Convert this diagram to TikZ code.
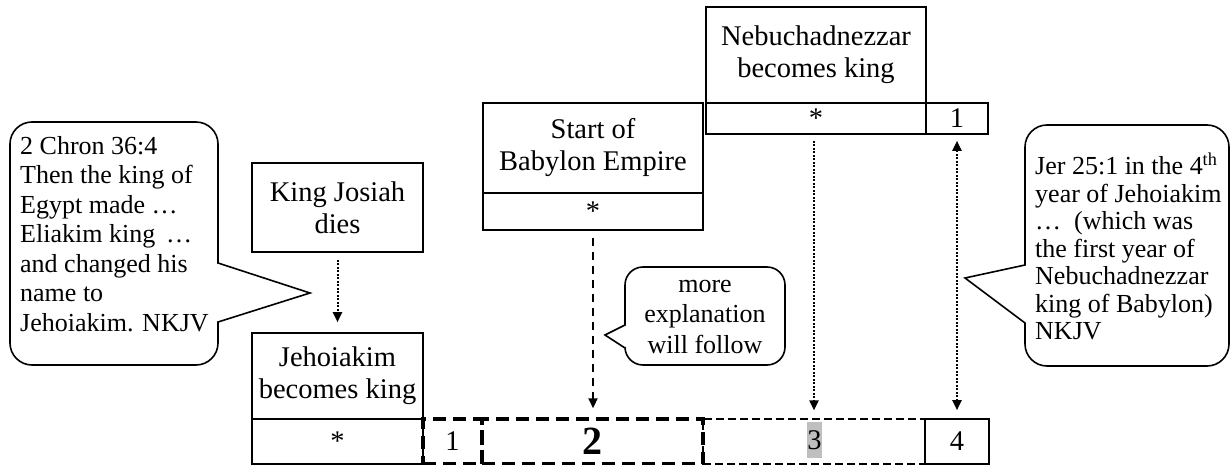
\documentclass[tikz,border=0pt]{standalone}
\usepackage{fontspec}
\setmainfont{Liberation Serif}
\usetikzlibrary{arrows.meta}

\begin{document}
\begin{tikzpicture}[x=1pt,y=-1pt,
    font=\fontsize{28.5}{32}\selectfont,
    box/.style={draw,line width=1.6pt,inner sep=0pt,align=center},
    cell/.style={box,minimum height=45pt},
    note/.style={inner sep=0pt,align=left,anchor=north west},
    bubble/.style={line width=1.6pt},
    headtip/.style={-{Triangle[length=10pt,width=9pt]}},
    dotline/.style={line width=2pt,dash pattern=on 2pt off 1.5pt},
    bigdash/.style={line width=3.5pt,dash pattern=on 13pt off 7pt},
    smalldash/.style={line width=1.2pt,dash pattern=on 8pt off 4pt}]
    \useasboundingbox (0,0) rectangle (1231,465);

    % Left note: 2 Chron 36:4
    \node[note,font=\fontsize{26}{29.5}\selectfont] (chronnote) at (20,136)
        {2 Chron 36:4\\Then the king of\\Egypt made …\\Eliakim king \,…\\and changed his\\name to\\Jehoiakim. NKJV};
    \draw[bubble] (310,293) -- (218,322) [rounded corners=22pt] -- (218,365) -- (10,365)
        -- (10,122) -- (218,122) [sharp corners] -- (218,263) -- cycle;

    % Josiah and Jehoiakim
    \node[box,minimum width=171pt,minimum height=89pt] (josiah) at (337.5,207.5) {King Josiah\\dies};
    \node[box,minimum width=171pt,minimum height=86pt] (jehoiakim) at (337.5,376) {Jehoiakim\\becomes king};
    \node[cell,minimum width=171pt] (jehoiakimstar) at (337.5,441.5) {*};

    % Babylon
    \node[box,minimum width=220pt,minimum height=90pt] (babylon) at (593,148) {Start of\\Babylon Empire};
    \node[box,minimum width=220pt,minimum height=37pt] (babylonstar) at (593,211.5) {*};

    % Nebuchadnezzar
    \node[box,minimum width=220pt,minimum height=96pt] (nebu) at (816,55) {Nebuchadnezzar\\becomes king};
    \node[box,minimum width=220pt,minimum height=31pt] (nebustar) at (816,118.5) {*};
    \node[box,minimum width=62pt,minimum height=31pt] (nebuone) at (957,118.5) {1};

    % Years of Jehoiakim
    \node[cell,smalldash,minimum width=222pt] (yearthree) at (814,441.5) {};
    \node[fill=gray!50,inner sep=0pt,minimum width=15pt,minimum height=36pt] (three) at (814.5,440) {3};
    \node[cell,bigdash,minimum width=221pt] (yeartwo) at (592.5,441.5) {\fontsize{40}{40}\selectfont\bfseries 2};
    \node[cell,bigdash,minimum width=59pt] (yearone) at (452.5,441.5) {1};
    \node[cell,minimum width=64pt] (yearfour) at (957,441.5) {4};

    % Middle note
    \node[align=center,inner sep=0pt,font=\fontsize{26}{30}\selectfont] (morenote) at (705,317)
        {more\\explanation\\will follow};
    \draw[bubble] (605,335) -- (625,325) [rounded corners=18pt] -- (625,267) -- (785,267)
        -- (785,365) -- (625,365) [sharp corners] -- (625,348) -- cycle;

    % Right note: Jer 25:1
    \node[note,font=\fontsize{26}{27.5}\selectfont] (jernote) at (1035,153)
        {Jer 25:1 in the 4\textsuperscript{th}\\year of Jehoiakim\\…\ \ (which was\\the first year of\\Nebuchadnezzar\\king of Babylon)\\NKJV};
    \draw[bubble] (965,278) -- (1025,265) [rounded corners=22pt] -- (1025,125) -- (1229,125)
        -- (1229,366) -- (1025,366) [sharp corners] -- (1025,323) -- cycle;

    % Arrows
    \draw[dotline,headtip,shorten <=7pt,shorten >=10pt] (josiah.south) -- (jehoiakim.north);
    \draw[headtip,line width=2.2pt,dash pattern=on 8pt off 6pt,shorten <=7pt,shorten >=9pt]
        (babylonstar.south) -- (babylonstar.south |- yeartwo.north);
    \draw[dotline,headtip,shorten <=6pt,shorten >=8pt] (yearthree.north |- nebustar.south) -- (yearthree.north);
    \draw[dotline,{Triangle[length=10pt,width=9pt]}-{Triangle[length=10pt,width=9pt]},
        shorten <=6pt,shorten >=8pt] (nebuone.south) -- (yearfour.north);
\end{tikzpicture}
\end{document}
